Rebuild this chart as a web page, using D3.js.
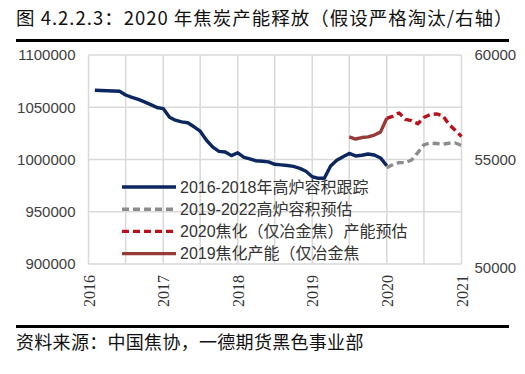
<!DOCTYPE html>
<html>
<head>
<meta charset="utf-8">
<script src="https://cdn.jsdelivr.net/npm/d3@7"></script>
<style>
  body { margin: 0; background: #fff; }
  svg { display: block; }
</style>
</head>
<body>
<div id="chart"></div>
<script>
// blast furnace volume tracking (left axis)
const blueMonths = ["2016-02","2016-03","2016-04","2016-05","2016-06","2016-07","2016-08","2016-09","2016-10","2016-11","2016-12",
  "2017-01","2017-02","2017-03","2017-04","2017-05","2017-06","2017-07","2017-08","2017-09","2017-10","2017-11","2017-12",
  "2018-01","2018-02","2018-03","2018-04","2018-05","2018-06","2018-07","2018-08","2018-09","2018-10","2018-11","2018-12",
  "2019-01","2019-02","2019-03","2019-04","2019-05","2019-06","2019-07","2019-08","2019-09","2019-10","2019-11","2019-12",
  "2020-01"];
const blueValues = [1066200,1066000,1065800,1065600,1065300,1061700,1059400,1057500,1055100,1052500,1049800,
  1048700,1040500,1037600,1036000,1035200,1031300,1027100,1018400,1011800,1007800,1007200,1003700,
  1006400,1002100,1000500,998800,998300,997700,995400,994900,994300,993400,991500,988700,
  983500,982000,982000,993800,999300,1002700,1005800,1003400,1004100,1005300,1004300,1001500,
  994000];

// 2019-2022 forecast (left axis)
const grayMonths = ["2020-01","2020-02","2020-03","2020-04","2020-05","2020-06","2020-07","2020-08","2020-09","2020-10","2020-11","2020-12","2021-01"];
const grayValues = [992000,995200,997000,997000,999500,1006600,1014100,1015800,1015300,1014700,1015600,1015800,1013500];

// 2020 coke capacity forecast (right axis)
const redDashMonths = ["2020-01","2020-02","2020-03","2020-04","2020-05","2020-06","2020-07","2020-08","2020-09","2020-10","2020-11","2020-12","2021-01"];
const redDashValues = [56970,57080,57230,56920,56860,56710,57010,57150,57180,57100,56680,56400,56100];

// 2019 coke capacity (right axis)
const redMonths = ["2019-07","2019-08","2019-09","2019-10","2019-11","2019-12","2020-01"];
const redValues = [56080,55980,56050,56080,56170,56310,56970];

const xTicks = ["2016","2017","2018","2019","2020","2021"];
const leftTicks = [900000,950000,1000000,1050000,1100000];
const rightTicks = [50000,55000,60000];

const legendLabels = ["2016-2018年高炉容积跟踪", "2019-2022高炉容积预估", "2020焦化（仅冶金焦）产能预估", "2019焦化产能（仅冶金焦"];

const width = 525;
const height = 374;

// plot box
const plotLeft = 88.5, plotRight = 461.5, plotTop = 55, plotBottom = 264;

const parseMonth = d3.timeParse("%Y-%m");
const parseYear = d3.timeParse("%Y");

const svg = d3.select("#chart").append("svg")
  .attr("width", width)
  .attr("height", height);

// title + rules
svg.append("text")
  .attr("x", 16).attr("y", 25)
  .attr("font-family", "'Noto Sans CJK SC', sans-serif")
  .attr("font-size", 18.5)
  .attr("letter-spacing", 1)
  .attr("fill", "#111")
  .text("图 4.2.2.3：2020 年焦炭产能释放（假设严格淘汰/右轴）");

svg.append("line").attr("x1", 16).attr("x2", 509).attr("y1", 40.5).attr("y2", 40.5)
  .attr("stroke", "#000").attr("stroke-width", 3);
svg.append("line").attr("x1", 16).attr("x2", 509).attr("y1", 326.5).attr("y2", 326.5)
  .attr("stroke", "#000").attr("stroke-width", 3);

svg.append("text")
  .attr("x", 16).attr("y", 349)
  .attr("font-family", "'Noto Sans CJK SC', sans-serif")
  .attr("font-size", 18)
  .attr("letter-spacing", 0.3)
  .attr("fill", "#111")
  .text("资料来源：中国焦协，一德期货黑色事业部");

// scales
const x = d3.scaleTime()
  .domain([parseYear("2016"), parseYear("2021")])
  .range([plotLeft, plotRight]);

const yL = d3.scaleLinear().domain([900000, 1100000]).range([plotBottom, plotTop]);
const yR = d3.scaleLinear().domain([50000, 60000]).range([plotBottom, plotTop]);

// grid: half-year verticals, 50000 horizontals
const halfYears = d3.timeMonth.every(6).range(parseYear("2016"), d3.timeDay.offset(parseYear("2021"), 1));
const grid = svg.append("g").attr("stroke", "#d9d9d9").attr("stroke-width", 1.5);
grid.selectAll(".v").data(halfYears).enter().append("line")
  .attr("x1", d => x(d)).attr("x2", d => x(d))
  .attr("y1", plotTop).attr("y2", plotBottom);
grid.selectAll(".h").data(leftTicks).enter().append("line")
  .attr("x1", plotLeft).attr("x2", plotRight)
  .attr("y1", d => yL(d)).attr("y2", d => yL(d));

// axes (labels only)
const axisFont = "'Liberation Sans', Arial, sans-serif";

const yAxisL = svg.append("g")
  .attr("transform", `translate(${plotLeft}, 0)`)
  .call(d3.axisLeft(yL).tickValues(leftTicks).tickSize(0).tickPadding(13).tickFormat(d3.format("d")));
const yAxisR = svg.append("g")
  .attr("transform", `translate(${plotRight}, 0)`)
  .call(d3.axisRight(yR).tickValues(rightTicks).tickSize(0).tickPadding(13).tickFormat(d3.format("d")));
[yAxisL, yAxisR].forEach(g => {
  g.select(".domain").remove();
  g.selectAll("text")
    .attr("font-family", axisFont)
    .attr("font-size", 15)
    .attr("fill", "#404040");
});
yAxisR.selectAll("text").filter(d => d === 50000).attr("dy", "0.55em");

const xAxis = svg.append("g")
  .attr("transform", `translate(0, ${plotBottom})`)
  .call(d3.axisBottom(x).tickValues(xTicks.map(parseYear)).tickSize(0).tickFormat(d3.timeFormat("%Y")));
xAxis.select(".domain").remove();
xAxis.selectAll("text")
  .attr("font-family", "'Liberation Serif', 'Times New Roman', serif")
  .attr("font-size", 16)
  .attr("fill", "#333")
  .attr("transform", "rotate(-90)")
  .attr("x", -11)
  .attr("y", 0)
  .attr("dy", "0.35em")
  .style("text-anchor", "end");

// series
const series = [
  { months: blueMonths, values: blueValues, y: yL, color: "#0c2660", dash: null },
  { months: grayMonths, values: grayValues, y: yL, color: "#8c8c8c", dash: "7,4" },
  { months: redDashMonths, values: redDashValues, y: yR, color: "#b8111c", dash: "7,4" },
  { months: redMonths, values: redValues, y: yR, color: "#963b3a", dash: null }
];

series.forEach(s => {
  const pts = s.months.map((m, i) => [parseMonth(m), s.values[i]]);
  const line = d3.line().x(d => x(d[0])).y(d => s.y(d[1]));
  svg.append("path")
    .datum(pts)
    .attr("fill", "none")
    .attr("stroke", s.color)
    .attr("stroke-width", 3.4)
    .attr("stroke-linejoin", "round")
    .attr("stroke-dasharray", s.dash)
    .attr("d", line);
});

// legend
const legend = svg.append("g").attr("transform", "translate(122, 187)");
const rows = legend.selectAll("g").data(series).enter().append("g")
  .attr("transform", (d, i) => `translate(0, ${i * 22.2})`);
rows.append("line")
  .attr("x1", 0).attr("x2", 54).attr("y1", 0).attr("y2", 0)
  .attr("stroke", d => d.color)
  .attr("stroke-width", 3.4)
  .attr("stroke-dasharray", d => d.dash);
rows.append("text")
  .attr("x", 58).attr("y", 0).attr("dy", "0.36em")
  .attr("font-family", "'Liberation Sans', 'Noto Sans CJK SC', sans-serif")
  .attr("font-size", 16)
  .attr("fill", "#333")
  .text((d, i) => legendLabels[i]);
</script>
</body>
</html>
